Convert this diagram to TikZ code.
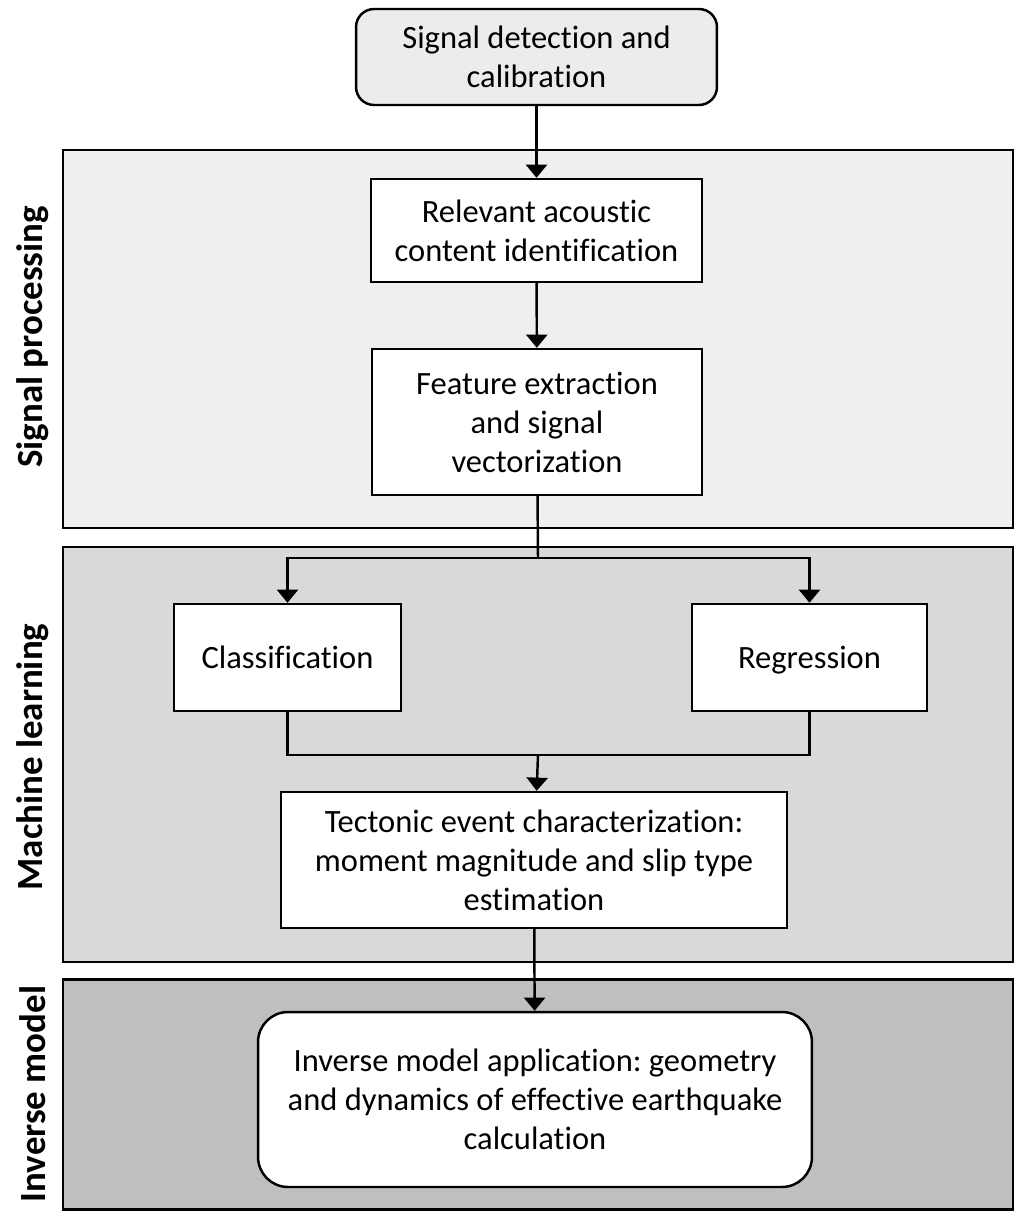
\documentclass[tikz,border=0pt]{standalone}
\usepackage{fontspec}
\setmainfont[Ligatures=NoCommon]{Carlito}
\frenchspacing
\usetikzlibrary{arrows.meta}
\definecolor{startfill}{HTML}{ECECEC}
\definecolor{procfill}{HTML}{EFEFEF}
\definecolor{learnfill}{HTML}{D9D9D9}
\definecolor{invfill}{HTML}{BFBFBF}
\tikzset{
  band/.style={draw, line width=1.4pt, rectangle, minimum width=19cm, inner sep=0pt},
  stepbox/.style={draw, line width=1.4pt, fill=white, align=center, inner sep=2pt,
    font=\fontsize{18.5}{22.2}\selectfont},
  onebox/.style={stepbox, text height=14pt, text depth=2pt},
  roundbox/.style={stepbox, rounded corners=0.36cm},
  bandlabel/.style={rotate=90, font=\fontsize{21}{24}\selectfont\bfseries},
  flow/.style={line width=1.4pt, -{Triangle[width=12pt,length=7.5pt]}},
  link/.style={line width=1.4pt}
}

\begin{document}
\begin{tikzpicture}[x=0.02cm, y=-0.02cm]
    \useasboundingbox (0,0) rectangle (1020,1211);

    % Background bands
    \node[band, fill=procfill, minimum height=7.56cm] (procband) at (538,339) {};
    \node[band, fill=learnfill, minimum height=8.3cm] (learnband) at (538,754.5) {};
    \node[band, fill=invfill, minimum height=4.6cm] (invband) at (538,1094.5) {};

    % Band labels
    \node[bandlabel] (proclabel) at (33,337) {Signal processing};
    \node[bandlabel] (learnlabel) at (33,757) {Machine learning};
    \node[bandlabel] (invlabel) at (33,1094) {Inverse model};

    % Steps
    \node[roundbox, fill=startfill, minimum width=7.22cm, minimum height=1.92cm] (detect) at (536.5,57)
      {Signal detection and\\calibration};
    \node[stepbox, minimum width=6.62cm, minimum height=2.06cm] (relevant) at (536.5,230.5)
      {Relevant acoustic\\content identification};
    \node[stepbox, minimum width=6.6cm, minimum height=2.92cm] (feature) at (537,422)
      {Feature extraction\\and signal\\vectorization};
    \node[onebox, minimum width=4.54cm, minimum height=2.14cm] (classif) at (287.5,657.5)
      {Classification};
    \node[onebox, minimum width=4.7cm, minimum height=2.14cm] (regress) at (809.5,657.5)
      {Regression};
    \node[stepbox, minimum width=10.12cm, minimum height=2.72cm] (tectonic) at (534,860)
      {Tectonic event characterization:\\moment magnitude and slip type\\estimation};
    \node[stepbox, rounded corners=0.6cm, minimum width=11.08cm, minimum height=3.5cm] (inverse) at (535,1099.5)
      {Inverse model application: geometry\\and dynamics of effective earthquake\\calculation};

    % Junctions
    \coordinate (split) at (538,558);
    \coordinate (merge) at (538,755);

    % Connectors
    \draw[flow] (detect) -- (relevant);
    \draw[flow] (relevant) -- (feature);
    \draw[link] (feature) -- (split);
    \draw[flow] (split) -| (classif);
    \draw[flow] (split) -| (regress);
    \draw[link] (classif) |- (merge);
    \draw[link] (regress) |- (merge);
    \draw[flow] (merge) -- (tectonic);
    \draw[flow] (tectonic) -- (inverse);
\end{tikzpicture}
\end{document}
